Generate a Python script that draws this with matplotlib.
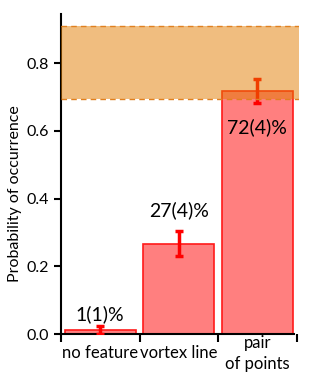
import numpy as np
import matplotlib
matplotlib.use('Agg')
import matplotlib.pyplot as plt

plt.rcParams['font.family'] = ['Lato', 'DejaVu Sans']

categories = ['no feature', 'vortex line', 'pair\nof points']
probs = [0.011, 0.267, 0.717]
err_lo = [0.0, 0.23, 0.681]
err_hi = [0.024, 0.304, 0.754]
labels = ['1(1)%', '27(4)%', '72(4)%']
label_y = [0.057, 0.366, 0.61]
band = (0.693, 0.911)

fig = plt.figure(figsize=(3.27, 3.76), dpi=100)
ax = fig.add_axes([61/327, 1 - 334/376, 238/327, 320/376])

x = np.arange(len(categories))
ax.bar(x, probs, width=0.9, color='#FF7F7F', edgecolor='#FF1A1A', linewidth=1.2, zorder=2)

lo = np.array(probs) - np.array(err_lo)
hi = np.array(err_hi) - np.array(probs)
ax.errorbar(x, probs, yerr=[lo, hi], fmt='none', ecolor='#FF0000',
            elinewidth=2.5, capsize=3, capthick=2.5, zorder=3)

ax.axhspan(band[0], band[1], color='#E37D00', alpha=0.5, lw=0, zorder=4)
for yb in band:
    ax.axhline(yb, color='#E08020', lw=1, ls=(0, (4, 3)), zorder=5)

for xi, lab, ly in zip(x, labels, label_y):
    ax.text(xi, ly, lab, ha='center', va='center', fontsize=14, zorder=6)

ax.set_xlim(-0.5, 2.53)
ax.set_ylim(0, 0.945)
ax.set_yticks([0.0, 0.2, 0.4, 0.6, 0.8])
ax.set_yticklabels(['0.0', '0.2', '0.4', '0.6', '0.8'])
ax.set_ylabel('Probability of occurrence', fontsize=11.5)
ax.yaxis.set_label_coords(-0.162, 0.4375)

ax.set_xticks([-0.5, 0.5, 1.5, 2.5])
ax.set_xticklabels([])
ax.set_xticks(x, minor=True)
ax.set_xticklabels(categories, minor=True, fontsize=12, linespacing=1.45)
for t in ax.get_xticklabels(minor=True):
    t.set_va('center')
ax.tick_params(axis='x', which='major', direction='out', length=6, width=1.5)
ax.tick_params(axis='x', which='minor', length=0, pad=14)
ax.tick_params(axis='y', direction='out', length=5, width=1.5, labelsize=11.5)

ax.spines['top'].set_visible(False)
ax.spines['right'].set_visible(False)
ax.spines['left'].set_linewidth(1.5)
ax.spines['bottom'].set_linewidth(1.5)
ax.spines['bottom'].set_bounds(-0.5, 2.47)

fig.savefig('out.png', dpi=100)
